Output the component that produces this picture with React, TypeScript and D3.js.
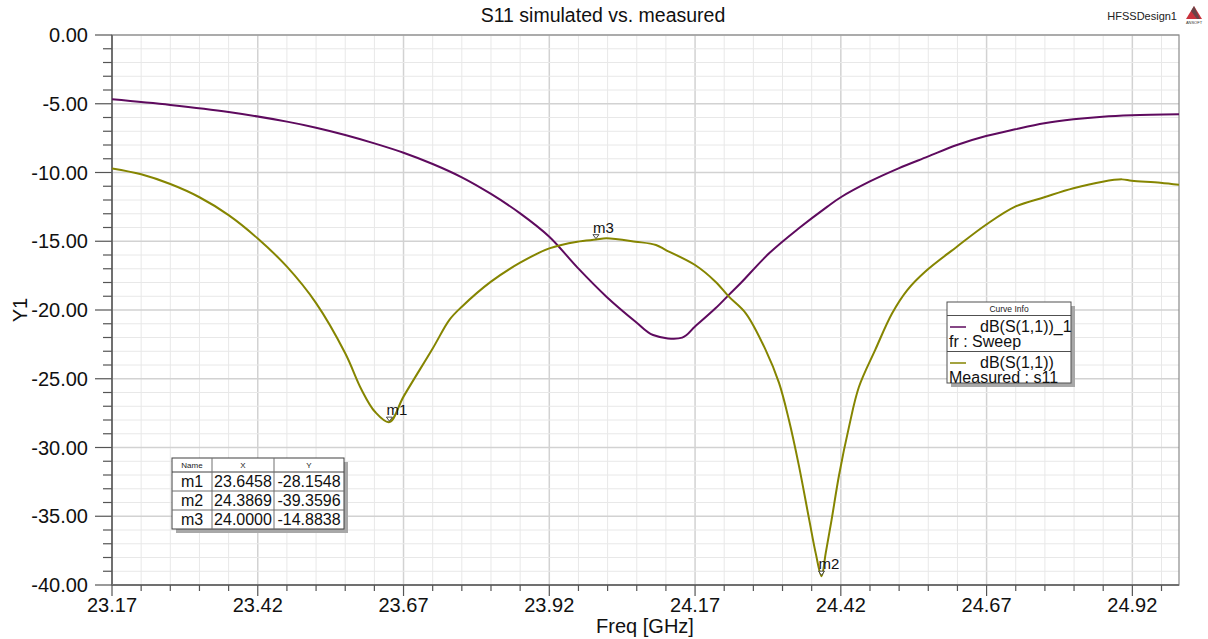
import React from "react";
import * as d3 from "d3";

const freqSim = [23.17, 23.27, 23.37, 23.47, 23.52, 23.57, 23.62, 23.67, 23.72, 23.77, 23.82, 23.87, 23.92, 23.968, 24.018, 24.068, 24.098, 24.148, 24.17, 24.205, 24.228, 24.248, 24.297, 24.348, 24.397, 24.42, 24.469, 24.519, 24.569, 24.619, 24.669, 24.719, 24.769, 24.819, 24.869, 24.919, 25.0];
const s11Sim = [-4.68, -5.09, -5.6, -6.3, -6.74, -7.27, -7.88, -8.56, -9.38, -10.35, -11.56, -12.97, -14.67, -16.9, -19.03, -20.85, -21.82, -22.01, -21.2, -19.88, -18.9, -18.06, -15.88, -14.06, -12.48, -11.8, -10.67, -9.7, -8.85, -8.0, -7.35, -6.86, -6.42, -6.13, -5.94, -5.84, -5.77];

const freqMeas = [23.17, 23.22, 23.27, 23.32, 23.37, 23.42, 23.47, 23.52, 23.57, 23.598, 23.621, 23.6458, 23.67, 23.72, 23.749, 23.77, 23.82, 23.87, 23.92, 23.968, 24.0, 24.018, 24.068, 24.103, 24.12, 24.17, 24.205, 24.228, 24.257, 24.291, 24.314, 24.331, 24.348, 24.366, 24.377, 24.3869, 24.394, 24.404, 24.417, 24.434, 24.451, 24.479, 24.508, 24.534, 24.565, 24.619, 24.669, 24.719, 24.769, 24.819, 24.869, 24.902, 24.919, 24.968, 25.0];
const s11Meas = [-9.7, -10.13, -10.84, -11.8, -13.1, -14.8, -16.85, -19.5, -23.15, -25.8, -27.4, -28.15, -26.3, -22.8, -20.7, -19.76, -17.94, -16.56, -15.52, -15.03, -14.88, -14.79, -15.03, -15.27, -15.64, -16.73, -17.94, -19.03, -20.24, -22.9, -25.3, -28.0, -31.3, -35.3, -37.7, -39.36, -37.7, -35.3, -32.0, -28.5, -25.6, -22.9, -20.24, -18.55, -17.2, -15.4, -13.8, -12.48, -11.8, -11.15, -10.67, -10.5, -10.6, -10.74, -10.9];

const xTickLabels = ["23.17", "23.42", "23.67", "23.92", "24.17", "24.42", "24.67", "24.92"];
const yTickLabels = ["0.00", "-5.00", "-10.00", "-15.00", "-20.00", "-25.00", "-30.00", "-35.00", "-40.00"];

const markerNames = ["m1", "m2", "m3"];
const markerX = [23.6458, 24.3869, 24.0];
const markerY = [-28.1548, -39.3596, -14.8838];
const markerXText = ["23.6458", "24.3869", "24.0000"];
const markerYText = ["-28.1548", "-39.3596", "-14.8838"];

const legendNames = ["dB(S(1,1))_1", "dB(S(1,1))"];
const legendSubs = ["fr : Sweep", "Measured : s11"];

const SIM_COLOR = "#5e0a5e";
const MEAS_COLOR = "#858500";
const FONT = "Liberation Sans, Arial, sans-serif";

export default function App() {
  const W = 1208, H = 639;
  const L = 112, R = 1179, T = 35, B = 585;
  const x = d3.scaleLinear().domain([23.17, 25.0]).range([L, R]);
  const y = d3.scaleLinear().domain([-40, 0]).range([B, T]);

  const xMinor = d3.range(0, 37).map((k) => 23.17 + k * 0.05);
  const yMinor = d3.range(0, 41).map((k) => -k);

  const line = d3.line<[number, number]>().x((d) => x(d[0])).y((d) => y(d[1])).curve(d3.curveCatmullRom.alpha(0.5));
  const simPath = line(freqSim.map((f, i) => [f, s11Sim[i]]) as [number, number][]) || "";
  const measPath = line(freqMeas.map((f, i) => [f, s11Meas[i]]) as [number, number][]) || "";

  const lgX = 947, lgY = 302, lgW = 124, lgH = 81;
  const tbX = 172, tbY = 458, colW = [40, 62, 70], hdrH = 14, rowH = 19;
  const tbW = colW[0] + colW[1] + colW[2];
  const tbH = hdrH + rowH * 3;

  return (
    <svg width={W} height={H} style={{ position: "absolute", left: 0, top: 0, background: "#fff" }} fontFamily={FONT}>
      <rect x={0} y={0} width={W} height={H} fill="#ffffff" />
      {xMinor.map((f, k) => (
        <line key={"gx" + k} x1={x(f)} x2={x(f)} y1={T} y2={B}
          stroke={k % 5 === 0 ? "#d2d2d2" : "#e8e8e8"} strokeWidth={k % 5 === 0 ? 1.5 : 1} />
      ))}
      {yMinor.map((v, k) => (
        <line key={"gy" + k} x1={L} x2={R} y1={y(v)} y2={y(v)}
          stroke={k % 5 === 0 ? "#d2d2d2" : "#e8e8e8"} strokeWidth={k % 5 === 0 ? 1.5 : 1} />
      ))}
      <rect x={L} y={T} width={R - L} height={B - T} fill="none" stroke="#8a8a8a" strokeWidth={1.2} />
      <line x1={L} x2={L} y1={T} y2={B} stroke="#707070" strokeWidth={2} />
      <line x1={L} x2={R} y1={B} y2={B} stroke="#707070" strokeWidth={2} />
      {yMinor.map((v, k) => (
        <line key={"ty" + k} x1={k % 5 === 0 ? L - 17 : L - 9} x2={L} y1={y(v)} y2={y(v)} stroke="#555" strokeWidth={1.2} />
      ))}
      {yTickLabels.map((t, i) => (
        <text key={"yl" + i} x={88} y={y(-5 * i) + 7} textAnchor="end" fontSize={20} fill="#111">{t}</text>
      ))}
      {xMinor.map((f, k) => (
        <line key={"tx" + k} x1={x(f)} x2={x(f)} y1={B} y2={k % 5 === 0 ? B + 11 : B + 6} stroke="#555" strokeWidth={1.2} />
      ))}
      {xTickLabels.map((t, i) => (
        <text key={"xl" + i} x={x(23.17 + 0.25 * i)} y={612} textAnchor="middle" fontSize={20} fill="#111">{t}</text>
      ))}
      <text x={603} y={22} textAnchor="middle" fontSize={19.5} fill="#111">S11 simulated vs. measured</text>
      <text x={645} y={633} textAnchor="middle" fontSize={20} fill="#111">Freq [GHz]</text>
      <text transform={`translate(27,${(T + B) / 2}) rotate(-90)`} textAnchor="middle" fontSize={20} fill="#111">Y1</text>
      <text x={1177} y={20} textAnchor="end" fontSize={11} fill="#222">HFSSDesign1</text>
      <g>
        <polygon points="1194,6 1186,19 1202,19" fill="#c8323c" />
        <polygon points="1194,6 1191,11 1197,19 1200,19" fill="#4a4a4a" opacity={0.75} />
        <text x={1194} y={24} textAnchor="middle" fontSize={4} fill="#333">ANSOFT</text>
      </g>
      <clipPath id="plotclip"><rect x={L} y={T} width={R - L} height={B - T} /></clipPath>
      <g clipPath="url(#plotclip)">
        <path d={simPath} fill="none" stroke={SIM_COLOR} strokeWidth={2} strokeLinejoin="round" />
        <path d={measPath} fill="none" stroke={MEAS_COLOR} strokeWidth={2} strokeLinejoin="round" />
      </g>
      {markerNames.map((m, i) => {
        const px = x(markerX[i]);
        const py = y(markerY[i]);
        return (
          <g key={"mk" + i}>
            <polygon points={`${px - 3},${py - 5} ${px + 3},${py - 5} ${px},${py - 1}`} fill="#fff" stroke="#222" strokeWidth={0.8} />
            <text x={px - 3} y={py - 7} fontSize={15} fill="#111">{m}</text>
          </g>
        );
      })}
      <rect x={lgX + 4} y={lgY + 4} width={lgW} height={lgH} fill="#a8a8a8" />
      <rect x={lgX} y={lgY} width={lgW} height={lgH} fill="#fff" stroke="#505050" strokeWidth={1} />
      <text x={lgX + lgW / 2} y={lgY + 10} textAnchor="middle" fontSize={8.5} fill="#222">Curve Info</text>
      <line x1={lgX} x2={lgX + lgW} y1={lgY + 13.5} y2={lgY + 13.5} stroke="#505050" />
      <line x1={lgX} x2={lgX + lgW} y1={lgY + 49.5} y2={lgY + 49.5} stroke="#505050" />
      {legendNames.map((n, i) => {
        const by = lgY + 14 + i * 36;
        return (
          <g key={"lg" + i}>
            <line x1={lgX + 3} x2={lgX + 19} y1={by + 11} y2={by + 11} stroke={i === 0 ? SIM_COLOR : MEAS_COLOR} strokeWidth={1.5} />
            <text x={lgX + 33} y={by + 16} fontSize={16} fill="#111">{n}</text>
            <text x={lgX + 2} y={by + 31} fontSize={16} fill="#111">{legendSubs[i]}</text>
          </g>
        );
      })}
      <rect x={tbX + 4} y={tbY + 4} width={tbW} height={tbH} fill="#a8a8a8" />
      <rect x={tbX} y={tbY} width={tbW} height={tbH} fill="#fff" stroke="#404040" strokeWidth={1} />
      <line x1={tbX} x2={tbX + tbW} y1={tbY + hdrH} y2={tbY + hdrH} stroke="#404040" />
      {[1, 2].map((r) => (
        <line key={"tr" + r} x1={tbX} x2={tbX + tbW} y1={tbY + hdrH + r * rowH} y2={tbY + hdrH + r * rowH} stroke="#707070" />
      ))}
      <line x1={tbX + colW[0]} x2={tbX + colW[0]} y1={tbY} y2={tbY + tbH} stroke="#707070" />
      <line x1={tbX + colW[0] + colW[1]} x2={tbX + colW[0] + colW[1]} y1={tbY} y2={tbY + tbH} stroke="#707070" />
      {["Name", "X", "Y"].map((h, c) => {
        const cx = tbX + colW.slice(0, c).reduce((a, b) => a + b, 0) + colW[c] / 2;
        return <text key={"th" + c} x={cx} y={tbY + 10} textAnchor="middle" fontSize={8} fill="#222">{h}</text>;
      })}
      {markerNames.map((m, r) => {
        const ry = tbY + hdrH + r * rowH + 15;
        const cells = [m, markerXText[r], markerYText[r]];
        return cells.map((v, c) => {
          const cx = tbX + colW.slice(0, c).reduce((a, b) => a + b, 0) + colW[c] / 2;
          return <text key={"td" + r + c} x={cx} y={ry} textAnchor="middle" fontSize={16} fill="#111">{v}</text>;
        });
      })}
    </svg>
  );
}
